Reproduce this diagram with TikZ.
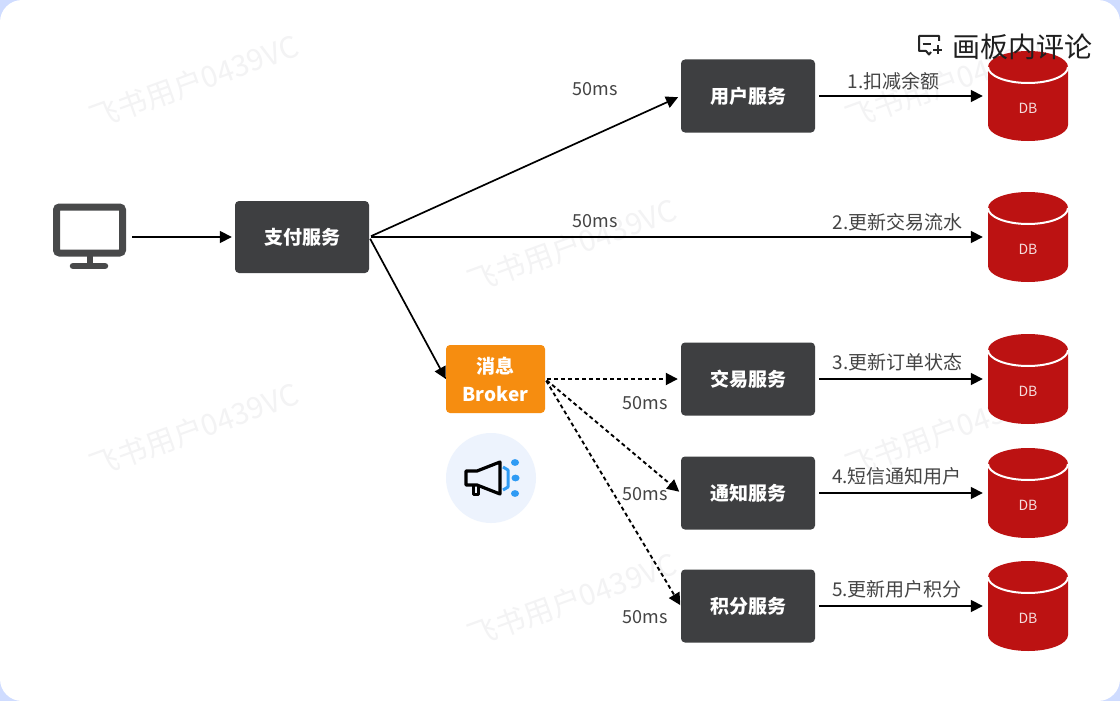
\documentclass[tikz,border=0pt]{standalone}
\usepackage{fontspec}
\usepackage{xcolor}
\setmainfont{Noto Sans CJK SC}
\usetikzlibrary{arrows.meta}
\definecolor{boxgray}{HTML}{3E3F41}
\definecolor{brokerorange}{HTML}{F68D10}
\definecolor{dbred}{HTML}{BC1212}
\definecolor{iconblue}{HTML}{2F9BF4}
\definecolor{circleblue}{HTML}{EDF3FD}
\definecolor{cornerblue}{HTML}{CFDCFF}
\definecolor{labelgray}{HTML}{444444}
\definecolor{markgray}{HTML}{F3F3F4}
\tikzset{
    service/.style={fill=boxgray, rounded corners=4pt, minimum width=134pt, minimum height=73pt,
        text=white, font=\fontsize{19}{19}\selectfont\bfseries, inner sep=0pt},
    dbnode/.style={minimum width=80pt, minimum height=90pt, inner sep=0pt},
    dbtext/.style={text=white!85!dbred, font=\fontsize{14}{14}\selectfont, inner sep=0pt},
    label/.style={text=labelgray, font=\fontsize{18}{18}\selectfont, inner sep=0pt},
    steplabel/.style={label, font=\fontsize{19}{19}\selectfont},
    watermark/.style={text=markgray, font=\fontsize{29.5}{29.5}\selectfont, rotate=20, inner sep=0pt},
    flow/.style={->, black, line width=1.7pt},
    async/.style={flow, line width=1.9pt, dash pattern=on 4pt off 3pt}
}
\begin{document}
\begin{tikzpicture}[x=1pt, y=-1pt, >={Triangle[length=12pt, width=12pt]}]
\useasboundingbox (0,0) rectangle (1120,701);
\fill[cornerblue] (0,0) rectangle (1120,701);
\fill[white] (0,0) [rounded corners=22pt] rectangle (1120,701);

\foreach \x/\y in {194/82,572/246,194/430,950/82,950/430,572/600}{
    \node[watermark] at (\x,\y) {飞书用户0439VC};
}

\node[minimum width=73pt, minimum height=66pt, inner sep=0pt] (monitor) at (89.5,237) {};
\draw[boxgray!95!white, line width=7pt, rounded corners=3pt] (56.5,207) rectangle (122.5,253);
\draw[boxgray!95!white, line width=6pt] (89.5,256) -- (89.5,265);
\draw[boxgray!95!white, line width=6.5pt, line cap=round] (73,266) -- (105,266);

\node[service, minimum height=72pt] (pay) at (302,237) {支付服务};
\node[fill=brokerorange, rounded corners=4pt, minimum width=99pt, minimum height=68pt, inner sep=0pt,
    text=white, align=center, font=\fontsize{19}{28}\selectfont\bfseries] (broker) at (495.5,379) {消息\\Broker};

\node[service] (user) at (748,96) {用户服务};
\node[service] (trade) at (748,379) {交易服务};
\node[service] (notify) at (748,493) {通知服务};
\node[service] (points) at (748,606) {积分服务};

\foreach \n/\y in {1/96,2/237,3/379,4/493,5/606}{
    \fill[dbred] (988,\y-29) arc[start angle=180, end angle=360, x radius=40, y radius=16]
        -- (1068,\y+29) arc[start angle=0, end angle=180, x radius=40, y radius=16] -- cycle;
    \draw[white, line width=2pt] (988,\y-29) arc[start angle=180, end angle=0, x radius=40, y radius=16];
    \node[dbnode] (db\n) at (1028,\y) {};
    \node[dbtext] at (1028,\y+12.5) {DB};
}

\draw[flow, shorten <=6pt, shorten >=3pt] (monitor) -- (pay);
\draw[flow, shorten <=2pt, shorten >=3pt] (pay.east) -- (user.west);
\draw[flow, shorten <=2pt, shorten >=5pt] (pay.east) -- (db2.west);
\draw[flow, shorten <=2pt] (pay.east) -- (broker.west);

\draw[async, shorten <=2pt, shorten >=3pt] (broker.east) -- (trade.west);
\draw[async, shorten <=2pt, shorten >=2pt] (broker.east) -- (notify.west);
\draw[async, shorten <=2pt, shorten >=1pt] (broker.east) -- (points.west);

\draw[flow, shorten <=4pt, shorten >=5pt] (user.east) -- (db1.west);
\draw[flow, shorten <=4pt, shorten >=5pt] (trade.east) -- (db3.west);
\draw[flow, shorten <=4pt, shorten >=5pt] (notify.east) -- (db4.west);
\draw[flow, shorten <=4pt, shorten >=5pt] (points.east) -- (db5.west);

\node[label] (t1) at (595,89) {50ms};
\node[label] (t2) at (595,221) {50ms};
\node[label] (t3) at (645.5,403) {50ms};
\node[label] (t4) at (645.5,494) {50ms};
\node[label] (t5) at (645.5,617) {50ms};

\node[steplabel] (s1) at (893.5,81) {1.扣减余额};
\node[steplabel] (s2) at (897.5,222) {2.更新交易流水};
\node[steplabel] (s3) at (897.5,362) {3.更新订单状态};
\node[steplabel] (s4) at (897,476) {4.短信通知用户};
\node[steplabel] (s5) at (897,589) {5.更新用户积分};

\fill[circleblue] (491,478) circle (45);
\draw[black, line width=3.2pt, line join=round] (466,471) -- (477,471) -- (500,462) -- (500,494) -- (477,485) -- (466,485) -- cycle;
\draw[black, line width=3pt, line join=round] (473,485) -- (473,494.5) -- (478,494.5) -- (478,486);
\draw[iconblue, line width=3pt, line join=round] (503,467) -- (508,470) -- (508,487) -- (503,490);
\foreach \p in {(515,462.5),(515.5,478),(515,493.5)}{
    \fill[iconblue] \p ellipse (4 and 3.4);
}

\draw[black!85, line width=2pt, line join=round] (939,41) -- (939,36) -- (919,36) -- (919,51) -- (926,51) -- (929,54.5) -- (931,52);
\draw[black!85, line width=2pt] (922.5,44) -- (931,44);
\draw[black!85, line width=2pt] (933,50) -- (942,50) (937.5,45.5) -- (937.5,54.5);
\node[text=black!88, font=\fontsize{28}{28}\selectfont, inner sep=0pt] (comment) at (1022.5,47) {画板内评论};
\end{tikzpicture}
\end{document}
